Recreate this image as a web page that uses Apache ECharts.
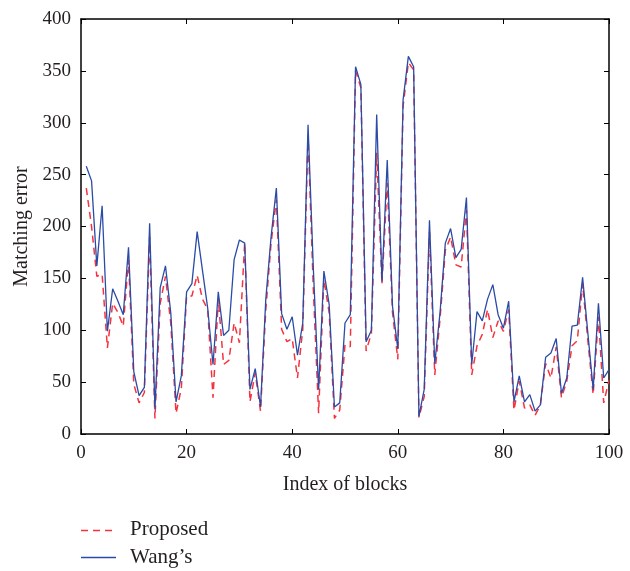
<!DOCTYPE html>
<html>
<head>
<meta charset="utf-8">
<script src="https://cdn.jsdelivr.net/npm/echarts@6/dist/echarts.min.js"></script>
<style>html,body{margin:0;padding:0;background:#fff;}#c{width:630px;height:571px;}</style>
</head>
<body>
<div id="c"></div>
<script>
// Block indices 1..100
var xTicks = [0, 20, 40, 60, 80, 100];
var yTicks = [0, 50, 100, 150, 200, 250, 300, 350, 400];
var seriesNames = ['Proposed', 'Wang\u2019s'];

var proposed = [
237,200,152,154,83,126,117,104,168,48,
30,40,190,15,126,152,107,20,44,133,
133,153,130,120,35,130,67,71,107,88,
184,31,59,22,120,184,226,101,89,92,
54,101,288,140,20,149,117,15,23,86,
84,350,334,80,97,271,145,242,117,72,
316,358,351,16,36,195,57,111,177,190,
163,161,216,57,85,96,120,93,109,99,
120,23,51,25,28,18,28,68,54,84,
35,51,85,90,145,90,38,113,30,52
];

var wangs = [
258,244,162,220,99,140,128,115,180,60,
37,45,203,24,141,162,117,31,56,137,
145,195,158,121,67,137,95,100,168,187,
184,43,63,26,130,190,237,116,101,113,
76,107,298,160,43,157,125,26,30,107,
115,354,337,89,100,308,147,264,123,82,
322,364,354,17,43,206,68,117,184,198,
170,178,228,67,118,109,130,144,115,102,
128,31,56,31,38,22,28,74,78,92,
39,54,104,105,151,97,43,126,54,62
];

function pairs(vals){
  var out = [];
  for (var i = 0; i < vals.length; i++) out.push([i + 1, vals[i]]);
  return out;
}

var serif = '"Liberation Serif", "DejaVu Serif", serif';
var txt = '#231f20';
var RED = '#f5333f', BLUE = '#2a4ba6';
var DASH = [7, 5];
function axisLine(){ return {show: true, onZero: false, lineStyle: {color: '#000', width: 1.5}}; }
function tick(){ return {show: true, inside: true, length: 5, lineStyle: {color: '#000', width: 1}}; }

var chart = echarts.init(document.getElementById('c'), null, {renderer: 'canvas'});
chart.setOption({
  animation: false,
  backgroundColor: '#fff',
  grid: {left: 81, right: 21, top: 19, bottom: 137, containLabel: false},
  xAxis: [{
    type: 'value', min: xTicks[0], max: xTicks[xTicks.length - 1], interval: 20,
    position: 'bottom',
    name: 'Index of blocks', nameLocation: 'middle', nameGap: 41,
    nameTextStyle: {fontFamily: serif, fontSize: 20, color: txt},
    axisLine: axisLine(), axisTick: tick(),
    axisLabel: {fontFamily: serif, fontSize: 19, color: txt, margin: 10},
    splitLine: {show: false}
  }, {
    type: 'value', min: xTicks[0], max: xTicks[xTicks.length - 1], interval: 20,
    position: 'top',
    axisLine: axisLine(), axisTick: tick(),
    axisLabel: {show: false},
    splitLine: {show: false}
  }],
  yAxis: [{
    type: 'value', min: yTicks[0], max: yTicks[yTicks.length - 1], interval: 50,
    position: 'left',
    name: 'Matching error', nameLocation: 'middle', nameGap: 46,
    nameTextStyle: {fontFamily: serif, fontSize: 20, color: txt},
    axisLine: axisLine(), axisTick: tick(),
    axisLabel: {fontFamily: serif, fontSize: 19, color: txt, margin: 10},
    splitLine: {show: false}
  }, {
    type: 'value', min: yTicks[0], max: yTicks[yTicks.length - 1], interval: 50,
    position: 'right',
    axisLine: axisLine(), axisTick: tick(),
    axisLabel: {show: false},
    splitLine: {show: false}
  }],
  graphic: [
    {type: 'line', shape: {x1: 81, y1: 530.5, x2: 116, y2: 530.5},
     style: {stroke: RED, lineWidth: 1.5, lineDash: DASH}},
    {type: 'text', left: 130, top: 519,
     style: {text: seriesNames[0], font: '21px ' + serif, fill: txt}},
    {type: 'line', shape: {x1: 81, y1: 557.5, x2: 116, y2: 557.5},
     style: {stroke: BLUE, lineWidth: 1.3}},
    {type: 'text', left: 130, top: 547,
     style: {text: seriesNames[1], font: '21px ' + serif, fill: txt}}
  ],
  series: [{
    name: seriesNames[0], type: 'line', data: pairs(proposed),
    xAxisIndex: 0, yAxisIndex: 0,
    symbol: 'none', showSymbol: false,
    lineStyle: {color: RED, width: 1.5, type: DASH},
    itemStyle: {color: RED},
    z: 2
  }, {
    name: seriesNames[1], type: 'line', data: pairs(wangs),
    xAxisIndex: 0, yAxisIndex: 0,
    symbol: 'none', showSymbol: false,
    lineStyle: {color: BLUE, width: 1.3},
    itemStyle: {color: BLUE},
    z: 3
  }, {
    type: 'line', data: [], xAxisIndex: 1, yAxisIndex: 1, silent: true
  }]
});
</script>
</body>
</html>
